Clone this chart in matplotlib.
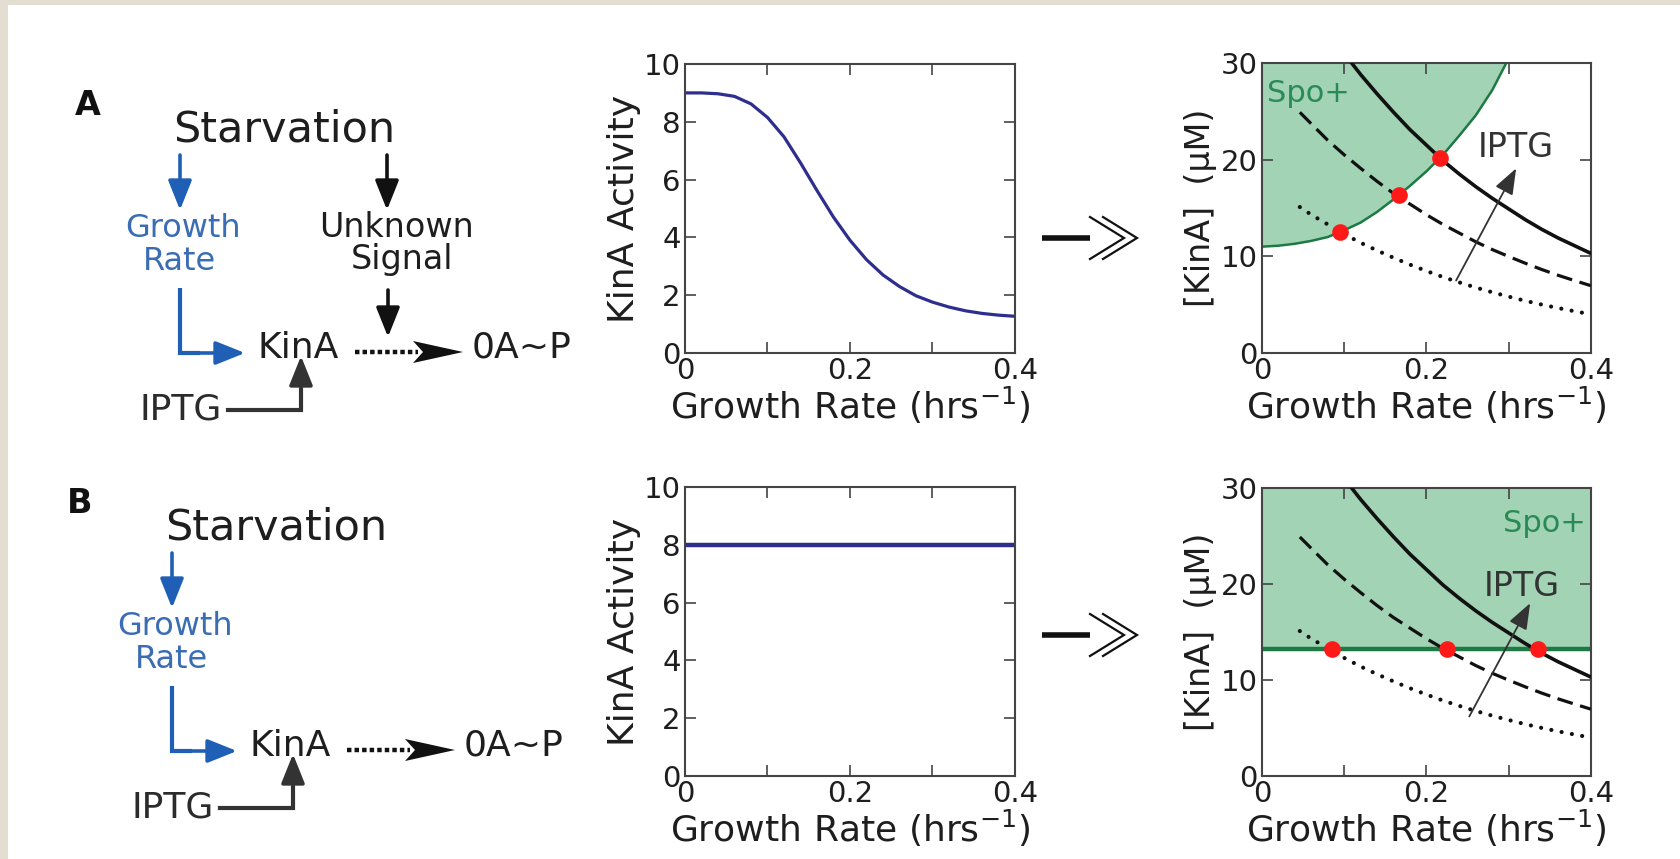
import matplotlib
matplotlib.use("Agg")
import matplotlib.pyplot as plt
from matplotlib.patches import Rectangle

# ---- data ---------------------------------------------------------------
# KinA activity vs growth rate (row A: decreasing; row B: constant)
act_x = [0, 0.02, 0.04, 0.06, 0.08, 0.10, 0.12, 0.14, 0.16, 0.18, 0.20,
         0.22, 0.24, 0.26, 0.28, 0.30, 0.32, 0.34, 0.36, 0.38, 0.40]
act_y = [9.0, 9.0, 8.97, 8.88, 8.62, 8.15, 7.48, 6.58, 5.62, 4.70, 3.90,
         3.23, 2.70, 2.30, 1.98, 1.76, 1.59, 1.46, 1.37, 1.31, 1.27]
flat_x = [0, 0.4]
flat_y = [8, 8]

# [KinA] vs growth rate for three IPTG levels
hi_x = [0.109, 0.12, 0.14, 0.16, 0.18, 0.20, 0.22, 0.24, 0.26, 0.28, 0.30,
        0.32, 0.34, 0.36, 0.38, 0.40]
hi_y = [30.0, 28.8, 26.8, 24.9, 23.1, 21.5, 19.9, 18.5, 17.2, 16.0, 14.9,
        13.8, 12.8, 11.9, 11.1, 10.3]
mid_x = [0.046, 0.06, 0.08, 0.10, 0.12, 0.14, 0.16, 0.18, 0.20, 0.22, 0.24,
         0.26, 0.28, 0.30, 0.32, 0.34, 0.36, 0.38, 0.40]
mid_y = [24.9, 23.7, 22.0, 20.5, 19.1, 17.75, 16.5, 15.4, 14.3, 13.3, 12.4,
         11.5, 10.7, 9.98, 9.29, 8.64, 8.04, 7.49, 6.96]
lo_x = [0.046, 0.06, 0.08, 0.10, 0.12, 0.14, 0.16, 0.18, 0.20, 0.22, 0.24,
        0.26, 0.28, 0.30, 0.32, 0.34, 0.36, 0.38, 0.40]
lo_y = [15.1, 14.3, 13.3, 12.3, 11.4, 10.6, 9.85, 9.14, 8.48, 7.86, 7.30,
        6.77, 6.28, 5.83, 5.40, 5.01, 4.65, 4.32, 4.00]

# Spo+ boundary (row A) and threshold (row B)
spo_x = [0, 0.02, 0.04, 0.06, 0.08, 0.10, 0.12, 0.14, 0.16, 0.18, 0.20,
         0.22, 0.24, 0.26, 0.28, 0.297]
spo_y = [11.0, 11.1, 11.3, 11.6, 12.0, 12.7, 13.5, 14.6, 15.9, 17.3, 18.8,
         20.5, 22.5, 24.6, 27.2, 30.0]
spo_thresh = 13.2

# crossing points
dots_a_x = [0.095, 0.166, 0.217]
dots_a_y = [12.5, 16.3, 20.2]
dots_b_x = [0.085, 0.225, 0.336]
dots_b_y = [spo_thresh] * 3

# IPTG arrows (tail, tip) in data units
iptg_a = [(0.236, 7.5), (0.309, 19.1)]
iptg_b = [(0.252, 6.2), (0.326, 18.0)]

x_ticks = [0, 0.1, 0.2, 0.3, 0.4]
x_ticklabels = ["0", "", "0.2", "", "0.4"]
act_ticks = [0, 2, 4, 6, 8, 10]
conc_ticks = [0, 10, 20, 30]

# ---- style --------------------------------------------------------------
W, H = 1681, 859
TXT = "#1e1e1e"
BLUE_TXT = "#3a6db3"
BLUE = "#1f5fb5"
GREEN = "#1d7a43"
FILL = "#a2d3b5"
SPINE = "#444444"

plt.rcParams["font.family"] = "DejaVu Sans"
plt.rcParams["text.color"] = TXT

fig = plt.figure(figsize=(W / 100, H / 100), dpi=100)
fig.patch.set_facecolor("#e4ddd2")

# background / diagram layer in pixel units
dax = fig.add_axes([0, 0, 1, 1])
dax.set_xlim(0, W)
dax.set_ylim(H, 0)
dax.axis("off")
dax.add_patch(Rectangle((8, 5), W - 8, H - 5, fc="white", ec="none", zorder=0))


def arrow(x0, y0, x1, y1, color, lw=2.6, hl=0.9, hw=0.36, ms=20):
    dax.annotate("", xy=(x1, y1), xytext=(x0, y0),
                 arrowprops=dict(arrowstyle=f"-|>,head_length={hl},head_width={hw}",
                                 lw=lw, color=color, shrinkA=0, shrinkB=0,
                                 mutation_scale=ms))


def diagram(dy, dx, label, unknown):
    # dy/dx shift the whole scheme for the second row
    dax.text(75 + dx, 115 + dy, label, fontsize=24, fontweight="bold",
             va="baseline", color="#111111")
    dax.text(284 + dx, 142 + dy, "Starvation", fontsize=31, ha="center",
             va="baseline", color=TXT)
    bx = 180 + dx
    arrow(bx, 155 + dy, bx, 210 + dy, BLUE)
    dax.text(bx + 3, 237 + dy, "Growth", fontsize=23, ha="center",
             va="baseline", color=BLUE_TXT)
    dax.text(bx, 270 + dy, "Rate", fontsize=23, ha="center",
             va="baseline", color=BLUE_TXT)
    dax.plot([bx, bx, bx + 20], [288 + dy, 353 + dy, 353 + dy], color=BLUE,
             lw=3, solid_joinstyle="miter", solid_capstyle="butt")
    arrow(bx, 353 + dy, bx + 65, 353 + dy, BLUE)
    if unknown:
        arrow(387, 155 + dy, 387, 210 + dy, "#111111")
        dax.text(397, 237 + dy, "Unknown", fontsize=24, ha="center",
                 va="baseline", color=TXT)
        dax.text(402, 269 + dy, "Signal", fontsize=24, ha="center",
                 va="baseline", color=TXT)
        arrow(388, 290 + dy, 388, 337 + dy, "#111111")
    dax.text(258 + dx, 358 + dy, "KinA", fontsize=26, va="baseline", color=TXT)
    # dotted arrow to 0A~P
    dax.plot([355 + dx, 418 + dx], [352 + dy, 352 + dy], color="#111111",
             lw=3.2, linestyle=(0, (1.0, 0.7)))
    tx = 463 + dx
    dax.fill([tx, tx - 50, tx - 40, tx - 50], [352 + dy, 341 + dy, 352 + dy, 363 + dy],
             color="#111111", lw=0)
    dax.text(472 + dx, 358 + dy, "0A~P", fontsize=26, va="baseline", color=TXT)
    # IPTG input
    dax.text(222 + dx, 420 + dy, "IPTG", fontsize=26, ha="right",
             va="baseline", color="#2b2b2b")
    dax.plot([228 + dx, 301 + dx, 301 + dx], [410 + dy, 410 + dy, 390 + dy],
             color="#333333", lw=3, solid_joinstyle="miter")
    arrow(301 + dx, 400 + dy, 301 + dx, 356 + dy, "#333333")


diagram(0, 0, "A", True)
diagram(398, -8, "B", False)


def big_arrow(y):
    dax.plot([1042, 1090], [y, y], color="#111111", lw=4, solid_capstyle="butt")
    for x0 in (1090, 1103):
        dax.plot([x0, x0 + 34, x0], [y - 21, y, y + 21], color="#111111",
                 lw=1.6, solid_joinstyle="miter")


big_arrow(238)
big_arrow(635)


def px_axes(l, t, r, b):
    return fig.add_axes([l / W, 1 - b / H, (r - l) / W, (b - t) / H])


def style(ax, yticks, ymax):
    ax.set_xlim(0, 0.4)
    ax.set_ylim(0, ymax)
    ax.set_xticks(x_ticks)
    ax.set_xticklabels(x_ticklabels)
    ax.set_yticks(yticks)
    ax.tick_params(direction="in", top=True, right=True, length=8, width=1.2,
                   color=SPINE, labelsize=21, labelcolor=TXT, pad=3)
    for s in ax.spines.values():
        s.set_color(SPINE)
        s.set_linewidth(1.5)
    ax.set_xlabel("Growth Rate (hrs$^{-1}$)", fontsize=26, labelpad=0, color=TXT)


# ---- KinA activity panels ---------------------------------------------
for (t, b), xs, ys, lw in [((64, 353), act_x, act_y, 2.3),
                           ((487, 776), flat_x, flat_y, 3.2)]:
    ax = px_axes(685, t, 1015, b)
    ax.plot(xs, ys, color="#2e2e8c", lw=lw, solid_capstyle="butt")
    style(ax, act_ticks, 10)
    ax.set_ylabel("KinA Activity", fontsize=26, labelpad=2, color=TXT)


# ---- [KinA] panels ------------------------------------------------------
def conc_panel(t, b):
    ax = px_axes(1262, t, 1591, b)
    ax.plot(hi_x, hi_y, color="#111111", lw=2.6, zorder=3)
    ax.plot(mid_x, mid_y, color="#111111", lw=2.3, linestyle=(0, (5.0, 2.4)), zorder=3)
    ax.plot(lo_x, lo_y, color="#111111", lw=3.0, linestyle=(0, (0.01, 2.5)),
            dash_capstyle="round", zorder=3)
    style(ax, conc_ticks, 30)
    ax.set_ylabel("[KinA]  (μM)", fontsize=24, labelpad=3, color=TXT)
    return ax


ax = conc_panel(63, 353)
ax.fill_between(spo_x, spo_y, 30, color=FILL, lw=0, zorder=1)
ax.plot(spo_x, spo_y, color=GREEN, lw=1.8, zorder=2)
ax.plot(dots_a_x, dots_a_y, "o", color="#ff1a1a", ms=12, mew=0, zorder=5)
ax.annotate("", xy=iptg_a[1], xytext=iptg_a[0],
            arrowprops=dict(arrowstyle="-|>,head_length=0.8,head_width=0.3",
                            lw=1.3, color="#333333", shrinkA=0, shrinkB=0,
                            mutation_scale=20), zorder=4)
ax.text(0.262, 20.3, "IPTG", fontsize=24, color="#333333", va="baseline")
ax.text(0.006, 26.0, "Spo+", fontsize=22, color="#2a8a55", va="baseline")

ax = conc_panel(488, 776)
ax.axhspan(spo_thresh, 30, color=FILL, lw=0, zorder=1)
ax.axhline(spo_thresh, color=GREEN, lw=3.2, zorder=2)
ax.plot(dots_b_x, dots_b_y, "o", color="#ff1a1a", ms=12, mew=0, zorder=5)
ax.annotate("", xy=iptg_b[1], xytext=iptg_b[0],
            arrowprops=dict(arrowstyle="-|>,head_length=0.8,head_width=0.3",
                            lw=1.3, color="#333333", shrinkA=0, shrinkB=0,
                            mutation_scale=20), zorder=4)
ax.text(0.270, 18.8, "IPTG", fontsize=24, color="#333333", va="baseline")
ax.text(0.394, 25.4, "Spo+", fontsize=22, color="#2a8a55", va="baseline", ha="right")

fig.savefig("out.png", dpi=100, facecolor=fig.get_facecolor())
